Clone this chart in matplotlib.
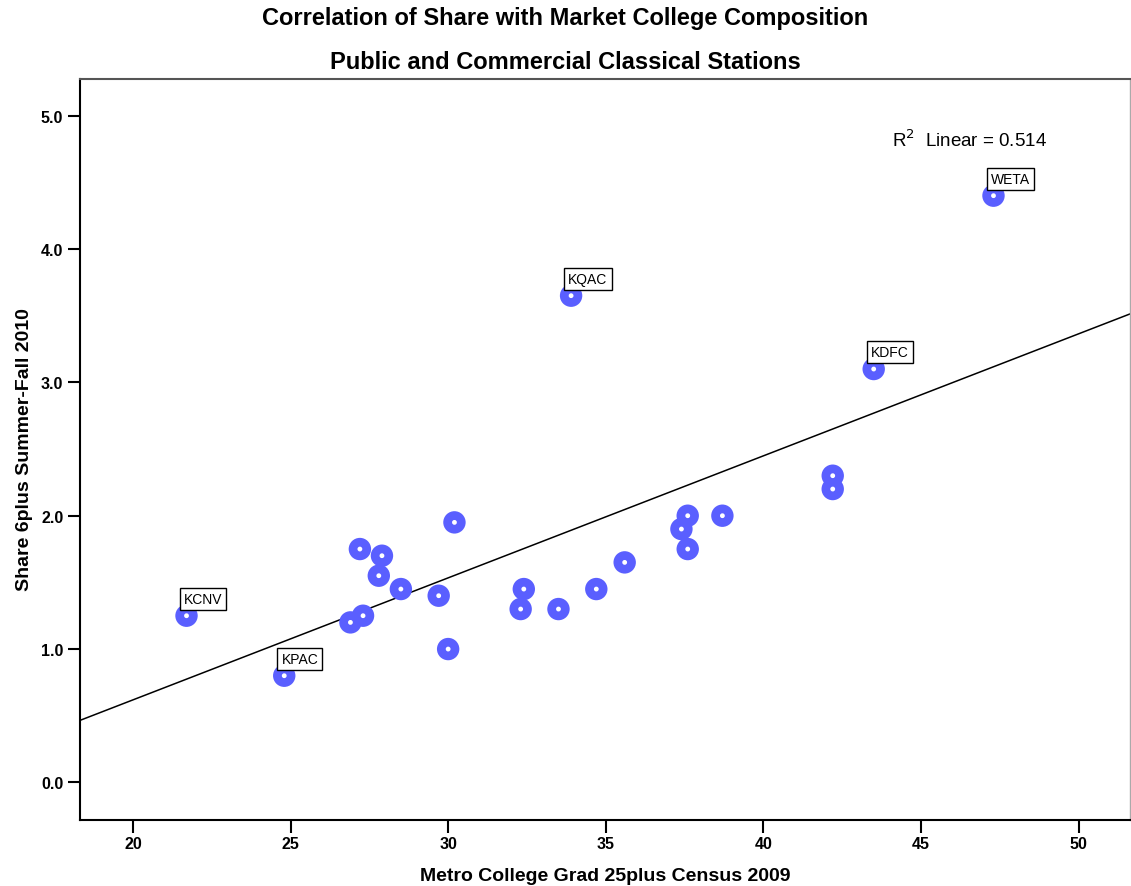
import numpy as np
import matplotlib
matplotlib.use("Agg")
import matplotlib.pyplot as plt

plt.rcParams['font.family'] = ['Liberation Sans', 'DejaVu Sans']

# Metro college grads (%) vs station share
college = [21.7, 24.8, 26.9, 27.3, 27.2, 27.9, 27.8, 28.5, 29.7, 30.0, 30.2,
           32.3, 32.4, 33.5, 33.9, 34.7, 35.6, 37.4, 37.6, 37.6, 38.7,
           42.2, 42.2, 43.5, 47.3]
share = [1.25, 0.80, 1.20, 1.25, 1.75, 1.70, 1.55, 1.45, 1.40, 1.00, 1.95,
         1.30, 1.45, 1.30, 3.65, 1.45, 1.65, 1.90, 2.00, 1.75, 2.00,
         2.30, 2.20, 3.10, 4.40]
labels = ['KCNV', 'KPAC', '', '', '', '', '', '', '', '', '',
          '', '', '', 'KQAC', '', '', '', '', '', '',
          '', '', 'KDFC', 'WETA']

x = np.array(college)
y = np.array(share)

fig = plt.figure(figsize=(11.31, 8.87), dpi=100)
ax = fig.add_axes([0.0707, 0.0747, 0.9284, 0.8351])

ax.set_xlim(18.32, 51.63)
ax.set_ylim(-0.28, 5.275)

# fit line
slope, intercept = np.polyfit(x, y, 1)
xs = np.array(ax.get_xlim())
ax.plot(xs, slope * xs + intercept, color='black', lw=1.1, zorder=2)

ax.scatter(x, y, s=260, color='#5a5fff', edgecolors='none', zorder=3)
ax.scatter(x, y, s=12, color='white', edgecolors='none', zorder=4)

for xi, yi, lab in zip(x, y, labels):
    if lab:
        ax.annotate(lab, (xi, yi), xytext=(-2, 7), textcoords='offset points',
                    fontsize=10, ha='left', va='bottom', zorder=5,
                    bbox=dict(boxstyle='square,pad=0.3', fc='white', ec='black', lw=1))

ax.text(0.773, 0.919, r'R$^2$  Linear = %.3f' % 0.514, transform=ax.transAxes,
        fontsize=13.5, ha='left', va='center')

ax.set_xticks([20, 25, 30, 35, 40, 45, 50])
ax.set_yticks([0, 1, 2, 3, 4, 5])
ax.set_yticklabels(['0.0', '1.0', '2.0', '3.0', '4.0', '5.0'])
ax.tick_params(direction='out', length=9, width=1.5, labelsize=11.5, pad=3)
for t in ax.get_xticklabels() + ax.get_yticklabels():
    t.set_fontweight('bold')

ax.spines['left'].set_linewidth(1.5)
ax.spines['bottom'].set_linewidth(1.5)
ax.spines['top'].set_color('#555555')
ax.spines['top'].set_linewidth(1.5)
ax.spines['right'].set_color('#aaaaaa')
ax.spines['right'].set_linewidth(1)

fig.text(0.535, 1 - 877 / 887, 'Metro College Grad 25plus Census 2009',
         ha='center', va='center', fontsize=14, fontweight='bold')
fig.text(25 / 1131, 1 - 450 / 887, 'Share 6plus Summer-Fall 2010', rotation=90,
         ha='center', va='center', fontsize=14, fontweight='bold')

fig.text(0.5, 0.9786, 'Correlation of Share with Market College Composition',
         ha='center', va='center', fontsize=17, fontweight='bold')
fig.text(0.5, 0.930, 'Public and Commercial Classical Stations',
         ha='center', va='center', fontsize=17, fontweight='bold')

fig.savefig('out.png', dpi=100)
